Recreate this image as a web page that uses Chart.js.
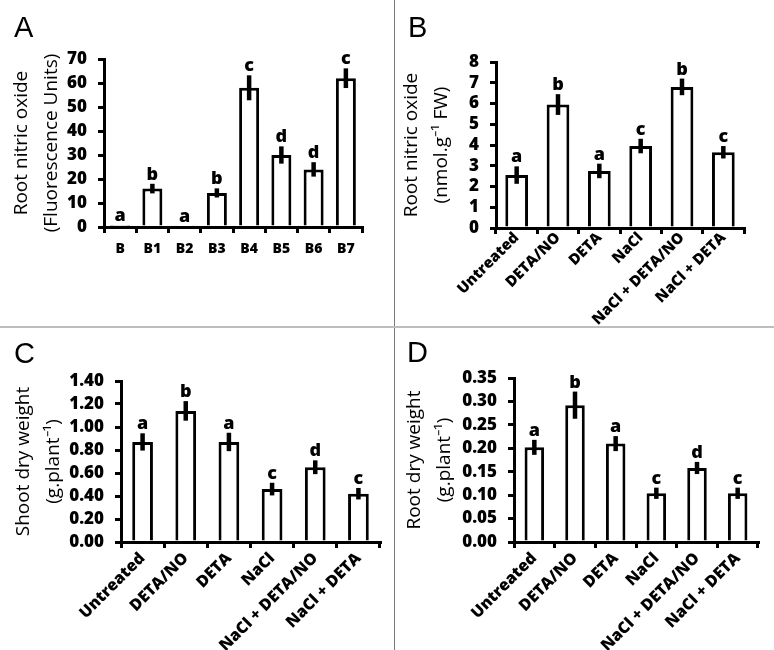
<!DOCTYPE html>
<html>
<head>
<meta charset="utf-8">
<script src="https://cdn.jsdelivr.net/npm/chart.js@4.4.1/dist/chart.umd.min.js"></script>
<style>
  html, body { margin: 0; padding: 0; background: #fff; }
  #wrap { position: relative; width: 774px; height: 650px; overflow: hidden; background: #fff; }
  .panel { position: absolute; }
  .letter { position: absolute; font-family: 'Liberation Sans', Arial, sans-serif; font-size: 29px; color: #000; line-height: 1; }
  .vline { position: absolute; left: 394px; top: 0; width: 1px; height: 650px; background: #7a7a7a; }
  .hline { position: absolute; left: 0; top: 326px; width: 774px; height: 2px; background: #bdbdbd; }
</style>
</head>
<body>
<div id="wrap">
  <div class="panel" style="left:0;top:0;width:394px;height:327px"><canvas id="cA"></canvas></div>
  <div class="panel" style="left:394px;top:0;width:380px;height:327px"><canvas id="cB"></canvas></div>
  <div class="panel" style="left:0;top:327px;width:394px;height:323px"><canvas id="cC"></canvas></div>
  <div class="panel" style="left:394px;top:327px;width:380px;height:323px"><canvas id="cD"></canvas></div>
  <div class="vline"></div>
  <div class="hline"></div>
  <div class="letter" style="left:14px;top:13px">A</div>
  <div class="letter" style="left:408px;top:13px">B</div>
  <div class="letter" style="left:14px;top:339px">C</div>
  <div class="letter" style="left:407px;top:338px">D</div>
</div>
<script>
// ---- Data ----
const aCategories = ['B', 'B1', 'B2', 'B3', 'B4', 'B5', 'B6', 'B7'];
const aValues = [0.8, 16, 0.5, 14.2, 58, 30, 24, 62];
const aErrors = [0, 2, 0, 1.9, 5.2, 3.6, 3, 4.1];
const aLetters = ['a', 'b', 'a', 'b', 'c', 'd', 'd', 'c'];

const treatments = ['Untreated', 'DETA/NO', 'DETA', 'NaCl', 'NaCl + DETA/NO', 'NaCl + DETA'];

const bValues = [2.55, 5.95, 2.75, 3.95, 6.8, 3.65];
const bErrors = [0.42, 0.5, 0.35, 0.35, 0.4, 0.3];
const bLetters = ['a', 'b', 'a', 'c', 'b', 'c'];

const cValues = [0.87, 1.14, 0.87, 0.46, 0.65, 0.42];
const cErrors = [0.075, 0.085, 0.08, 0.055, 0.06, 0.05];
const cLetters = ['a', 'b', 'a', 'c', 'd', 'c'];

const dValues = [0.202, 0.292, 0.21, 0.104, 0.158, 0.104];
const dErrors = [0.016, 0.029, 0.016, 0.012, 0.013, 0.012];
const dLetters = ['a', 'b', 'a', 'c', 'd', 'c'];

const aTitle = ['Root nitric oxide', '(Fluorescence Units)'];
const bTitle = ['Root nitric oxide', '(nmol.g\u207B\u00B9 FW)'];
const cTitle = ['Shoot dry weight', '(g.plant\u207B\u00B9)'];
const dTitle = ['Root dry weight', '(g.plant\u207B\u00B9)'];

const FONT = "'Open Sans'";

// ---- Plugin: error bars + significance letters ----
const errPlugin = {
  id: 'errbars',
  afterDatasetsDraw(chart, args, opts) {
    const ctx = chart.ctx;
    const meta = chart.getDatasetMeta(0);
    const ys = chart.scales.y;
    const vals = chart.data.datasets[0].data;
    ctx.save();
    meta.data.forEach((bar, i) => {
      const v = vals[i];
      const e = opts.err[i];
      const x = bar.x;
      const yTop = ys.getPixelForValue(v + e);
      const yBot = ys.getPixelForValue(v - e);
      if (e > 0) {
        ctx.strokeStyle = '#000';
        ctx.lineWidth = 4.5;
        ctx.beginPath();
        ctx.moveTo(x, yTop);
        ctx.lineTo(x, yBot);
        ctx.stroke();
      }
      ctx.fillStyle = '#000';
      ctx.font = "800 18px " + FONT;
      ctx.textAlign = 'center';
      ctx.textBaseline = 'alphabetic';
      ctx.fillText(opts.letters[i], x, Math.min(yTop, bar.y) - 4);
    });
    ctx.restore();
  }
};

function makeChart(id, cfg) {
  const axisColor = '#000';
  return new Chart(document.getElementById(id), {
    type: 'bar',
    data: {
      labels: cfg.labels,
      datasets: [{
        data: cfg.values,
        backgroundColor: '#fff',
        borderColor: '#000',
        borderWidth: 3,
        barPercentage: cfg.barPct,
        categoryPercentage: 1.0
      }]
    },
    options: {
      responsive: true,
      maintainAspectRatio: false,
      animation: false,
      devicePixelRatio: 1,
      layout: { padding: { left: 0, top: cfg.top, right: cfg.right, bottom: 0 } },
      plugins: {
        legend: { display: false },
        tooltip: { enabled: false },
        errbars: { err: cfg.err, letters: cfg.letters }
      },
      scales: {
        x: {
          offset: true,
          border: { color: axisColor, width: 3 },
          grid: { display: true, offset: true, drawOnChartArea: false, drawTicks: true, tickLength: 6, color: axisColor, lineWidth: 3 },
          ticks: {
            autoSkip: false,
            color: '#000',
            font: { family: FONT, weight: 800, size: cfg.xFont },
            minRotation: cfg.rot,
            maxRotation: cfg.rot,
            padding: cfg.xPad
          },
          afterFit(scale) { scale.height = cfg.xHeight; }
        },
        y: {
          min: 0,
          max: cfg.max,
          border: { color: axisColor, width: 3 },
          grid: { display: true, drawOnChartArea: false, drawTicks: true, tickLength: 6, color: axisColor, lineWidth: 3 },
          ticks: {
            autoSkip: false,
            stepSize: cfg.step,
            color: '#000',
            padding: 11,
            font: { family: FONT, weight: 800, size: 17 },
            callback: (v) => Number(v).toFixed(cfg.dec)
          },
          title: {
            display: true,
            text: cfg.title,
            color: '#000',
            font: { family: FONT, size: 19, lineHeight: 1.55 },
            padding: { top: cfg.titlePad, bottom: 0 }
          },
          afterFit(scale) { scale.width = cfg.yWidth; }
        }
      }
    },
    plugins: [errPlugin]
  });
}

// Panel A
makeChart('cA', {
  labels: aCategories, values: aValues, err: aErrors, letters: aLetters,
  max: 70, step: 10, dec: 0, title: aTitle,
  top: 59, right: 32, yWidth: 104, xHeight: 100,
  barPct: 0.62, rot: 0, xFont: 14, xPad: 8, titlePad: 7
});
// Panel B
makeChart('cB', {
  labels: treatments, values: bValues, err: bErrors, letters: bLetters,
  max: 8, step: 1, dec: 0, title: bTitle,
  top: 62, right: 30, yWidth: 102, xHeight: 99,
  barPct: 0.55, rot: 45, xFont: 15, xPad: -5, titlePad: 3
});
// Panel C
makeChart('cC', {
  labels: treatments, values: cValues, err: cErrors, letters: cLetters,
  max: 1.4, step: 0.2, dec: 2, title: cTitle,
  top: 54, right: 14, yWidth: 121, xHeight: 108,
  barPct: 0.48, rot: 45, xFont: 16, xPad: 1, titlePad: 9
});
// Panel D
makeChart('cD', {
  labels: treatments, values: dValues, err: dErrors, letters: dLetters,
  max: 0.35, step: 0.05, dec: 2, title: dTitle,
  top: 51, right: 16, yWidth: 120, xHeight: 108,
  barPct: 0.48, rot: 45, xFont: 16, xPad: 1, titlePad: 6
});
</script>
</body>
</html>
